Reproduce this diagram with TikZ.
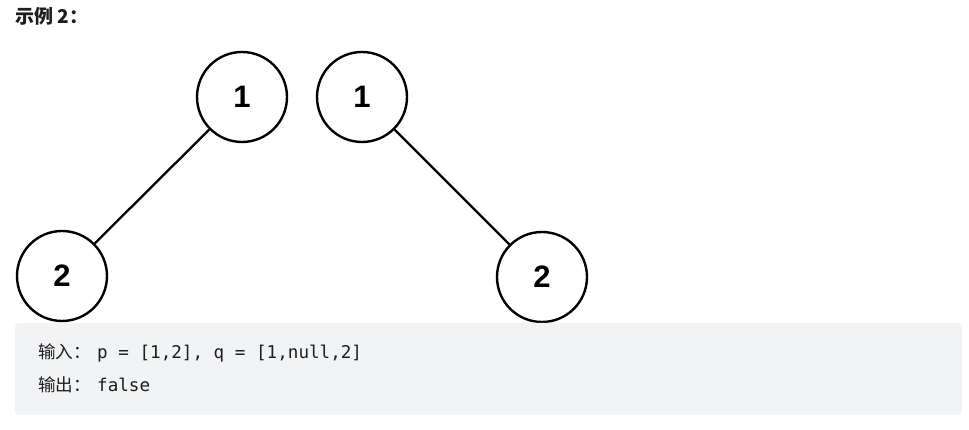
\documentclass[tikz,border=0pt]{standalone}
\usepackage{fontspec}
\setmainfont{Liberation Sans}
\setmonofont{DejaVu Sans Mono}
\newfontfamily\cjk{Noto Sans CJK SC}
\usetikzlibrary{positioning}
\definecolor{codebg}{RGB}{242,243,245}
\definecolor{inktext}{RGB}{30,30,30}

\begin{document}
\begin{tikzpicture}[x=1pt, y=1pt,
        treenode/.style={circle, draw=black, line width=2.4pt, minimum size=90pt, inner sep=0pt, font=\fontsize{31}{31}\selectfont\bfseries},
        edgeline/.style={line width=2.3pt},
        codeline/.style={anchor=west, inner sep=0pt, text=inktext, font=\fontsize{17.6}{17.6}\selectfont\ttfamily},
    ]
    \useasboundingbox (0,0) rectangle (969,430);
    \node[anchor=west, inner sep=0pt, text=inktext, font=\fontsize{19}{19}\selectfont\cjk\bfseries] (title) at (15,414) {示例 2：};

    \node[treenode] (proot)                                            at (242,333) {1};
    \node[treenode] (pleft)  [on grid, below left=179pt and 180pt of proot]  {2};
    \node[treenode] (qroot)                                            at (362,333) {1};
    \node[treenode] (qright) [on grid, below right=180pt and 180pt of qroot] {2};

    \draw[edgeline] (proot) -- (pleft);
    \draw[edgeline] (qroot) -- (qright);

    \fill[codebg, rounded corners=4pt] (15,15) rectangle (962,107);
    \node[codeline] (inputline)  at (38,77) {\makebox[59pt][l]{\cjk 输入：}p = [1,2], q = [1,null,2]};
    \node[codeline] (outputline) at (38,45) {\makebox[59pt][l]{\cjk 输出：}false};
\end{tikzpicture}
\end{document}
